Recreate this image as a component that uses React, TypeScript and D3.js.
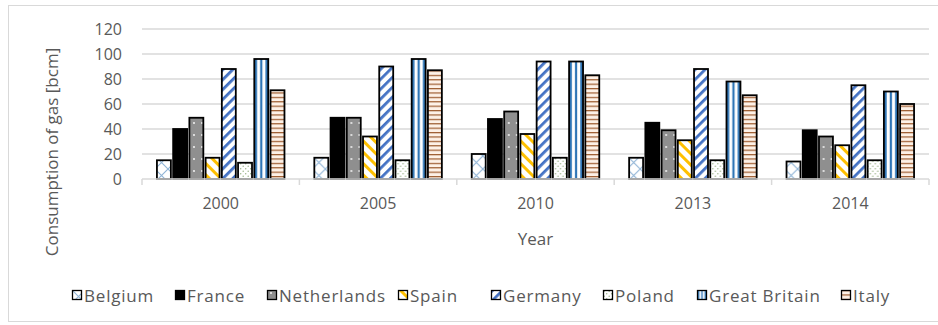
import { scaleBand, scaleLinear } from "d3";

const years = ["2000", "2005", "2010", "2013", "2014"];
const countries = [
  "Belgium",
  "France",
  "Netherlands",
  "Spain",
  "Germany",
  "Poland",
  "Great Britain",
  "Italy",
];

// consumption of gas [bcm], one array per country, in years order
const belgium = [15, 17, 20, 17, 14];
const france = [40, 49, 48, 45, 39];
const netherlands = [49, 49, 54, 39, 34];
const spain = [17, 34, 36, 31, 27];
const germany = [88, 90, 94, 88, 75];
const poland = [13, 15, 17, 15, 15];
const greatBritain = [96, 96, 94, 78, 70];
const italy = [71, 87, 83, 67, 60];

const yTicks = [0, 20, 40, 60, 80, 100, 120];

const seriesValues = [belgium, france, netherlands, spain, germany, poland, greatBritain, italy];
const patternIds = ["pBel", "pFra", "pNed", "pSpa", "pGer", "pPol", "pGbr", "pIta"];
const legendX = [72, 175, 267, 398, 491, 603, 697, 841];

const FONT = "'Open Sans', 'DejaVu Sans', sans-serif";
const TEXT = "#595959";

export default function App() {
  const width = 938;
  const height = 325;
  const m = { left: 142, right: 929, top: 29, bottom: 179 };

  const x = scaleBand<string>().domain(years).range([m.left, m.right]);
  const inner = scaleBand<string>()
    .domain(countries)
    .range([0, x.bandwidth()])
    .paddingInner(0.14)
    .paddingOuter(0.92);
  const y = scaleLinear().domain([0, 120]).range([m.bottom, m.top]);

  const boundaries = [...years.map((d) => x(d) as number), m.right];

  return (
    <svg
      width={width}
      height={height}
      style={{ position: "absolute", left: 0, top: 0, background: "#fff" }}
      fontFamily={FONT}
    >
      <defs>
        <pattern id="pBel" width={13} height={13} patternUnits="userSpaceOnUse">
          <rect width={13} height={13} fill="#fff" />
          <path d="M0,0 L13,13 M13,0 L0,13" stroke="#8fb4d6" strokeWidth={1.1} />
        </pattern>
        <pattern id="pFra" width={4} height={4} patternUnits="userSpaceOnUse">
          <rect width={4} height={4} fill="#000" />
        </pattern>
        <pattern id="pNed" width={8} height={12} patternUnits="userSpaceOnUse">
          <rect width={8} height={12} fill="#8f8f8f" />
          <circle cx={4} cy={3} r={0.9} fill="#fff" />
        </pattern>
        <pattern
          id="pSpa"
          width={8}
          height={8}
          patternUnits="userSpaceOnUse"
          patternTransform="rotate(-45)"
        >
          <rect width={8} height={8} fill="#fff" />
          <rect width={3} height={8} fill="#ffc000" />
        </pattern>
        <pattern
          id="pGer"
          width={7}
          height={7}
          patternUnits="userSpaceOnUse"
          patternTransform="rotate(45)"
        >
          <rect width={7} height={7} fill="#fff" />
          <rect width={2.8} height={7} fill="#4472c4" />
        </pattern>
        <pattern id="pPol" width={5} height={5} patternUnits="userSpaceOnUse">
          <rect width={5} height={5} fill="#fff" />
          <circle cx={1.2} cy={1.2} r={0.75} fill="#9bb58a" />
          <circle cx={3.7} cy={3.7} r={0.75} fill="#9bb58a" />
        </pattern>
        <pattern
          id="pGbr"
          width={1}
          height={1}
          patternUnits="objectBoundingBox"
          patternContentUnits="objectBoundingBox"
        >
          <rect width={1} height={1} fill="#fff" />
          <rect x={0} width={0.2} height={1} fill="#2e75b6" />
          <rect x={0.42} width={0.16} height={1} fill="#2e75b6" />
          <rect x={0.8} width={0.2} height={1} fill="#2e75b6" />
        </pattern>
        <pattern id="pIta" width={6} height={4.4} patternUnits="userSpaceOnUse">
          <rect width={6} height={4.4} fill="#fdf1e7" />
          <rect y={0} width={6} height={1.2} fill="#9c5a2e" />
        </pattern>
      </defs>

      {/* outer frame */}
      <rect x={8.5} y={5.5} width={940} height={316} fill="#fff" stroke="#d9d9d9" />

      {/* gridlines */}
      {yTicks.slice(1).map((t) => (
        <line
          key={t}
          x1={m.left}
          x2={m.right}
          y1={y(t)}
          y2={y(t)}
          stroke="#d9d9d9"
          strokeWidth={1.5}
        />
      ))}

      {/* y tick labels */}
      {yTicks.map((t) => (
        <text
          key={t}
          x={122}
          y={y(t)}
          textAnchor="end"
          dominantBaseline="central"
          fontSize={16}
          fill={TEXT}
        >
          {t}
        </text>
      ))}

      {/* bars */}
      {years.map((yr, i) => (
        <g key={yr} transform={`translate(${x(yr)},0)`}>
          {countries.map((c, j) => {
            const v = seriesValues[j][i];
            return (
              <rect
                key={c}
                x={inner(c)}
                y={y(v)}
                width={inner.bandwidth()}
                height={y(0) - y(v)}
                fill={`url(#${patternIds[j]})`}
                stroke="#000"
                strokeWidth={1.8}
              />
            );
          })}
        </g>
      ))}

      {/* x axis */}
      <line x1={m.left} x2={m.right} y1={y(0)} y2={y(0)} stroke="#d9d9d9" strokeWidth={1.5} />
      {boundaries.map((b, i) => (
        <line key={i} x1={b} x2={b} y1={y(0)} y2={y(0) + 6} stroke="#d9d9d9" strokeWidth={1.5} />
      ))}
      {years.map((yr) => (
        <text
          key={yr}
          x={(x(yr) as number) + x.bandwidth() / 2}
          y={203}
          textAnchor="middle"
          dominantBaseline="central"
          fontSize={16}
          fill={TEXT}
        >
          {yr}
        </text>
      ))}

      {/* axis titles */}
      <text
        x={(m.left + m.right) / 2}
        y={238}
        textAnchor="middle"
        dominantBaseline="central"
        fontSize={17}
        fill={TEXT}
      >
        Year
      </text>
      <text
        transform={`translate(51,${(m.top + m.bottom) / 2 + 48}) rotate(-90)`}
        textAnchor="middle"
        dominantBaseline="central"
        fontSize={17}
        fill={TEXT}
      >
        Consumption of gas [bcm]
      </text>

      {/* legend */}
      {countries.map((c, j) => (
        <g key={c} transform={`translate(${legendX[j]},290)`}>
          <rect
            x={0.5}
            y={0.5}
            width={9}
            height={9}
            fill={`url(#${patternIds[j]})`}
            stroke="#000"
            strokeWidth={1.3}
          />
          <text
            x={12}
            y={5}
            dominantBaseline="central"
            fontSize={17}
            letterSpacing={0.8}
            fill={TEXT}
          >
            {c}
          </text>
        </g>
      ))}
    </svg>
  );
}
